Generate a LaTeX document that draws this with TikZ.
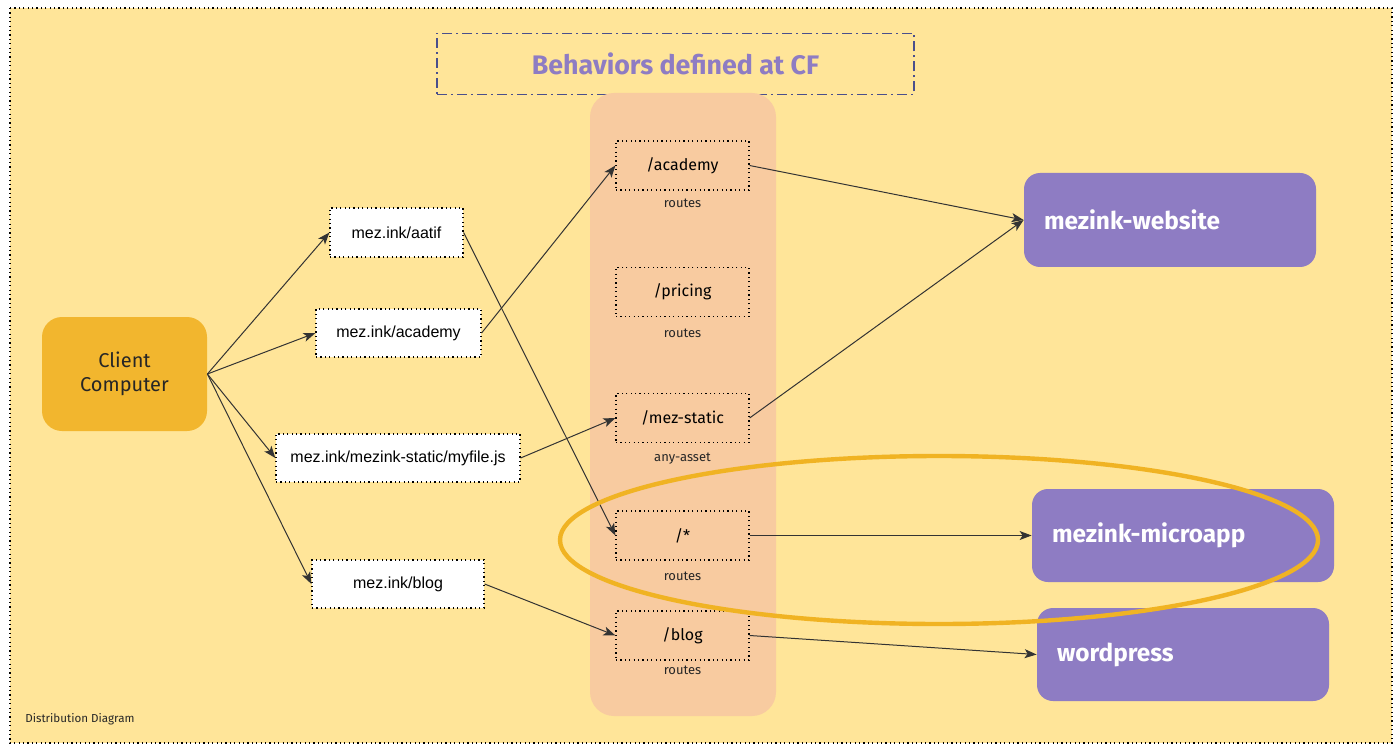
\documentclass[tikz,border=0pt]{standalone}
\usepackage{fontspec}
\setmainfont{Fira Sans}
\newfontfamily\arialf{Liberation Sans}
\usetikzlibrary{arrows.meta}
\definecolor{bgyellow}{HTML}{FFE599}
\definecolor{peach}{HTML}{F8CBA0}
\definecolor{clientc}{HTML}{F2B62E}
\definecolor{purp}{HTML}{8E7CC3}
\definecolor{ellc}{HTML}{F0B323}
\definecolor{navy}{HTML}{4A4F8C}
\definecolor{linec}{HTML}{333333}
\begin{document}
\begin{tikzpicture}[x=0.5pt,y=-0.5pt,
  dotb/.style={draw=black, line width=0.6pt, dash pattern=on 0.6pt off 1.6pt},
  urlbox/.style={dotb, fill=white, font=\arialf\fontsize{8}{9}\selectfont, inner sep=0pt},
  routebox/.style={dotb, minimum width=66.5pt, minimum height=24.5pt, font=\fontsize{8}{9}\selectfont, inner sep=0pt},
  routelbl/.style={font=\fontsize{6.5}{7}\selectfont, text=black!85, inner sep=0pt},
  purpbox/.style={fill=purp, rounded corners=8pt, font=\bfseries\fontsize{12.2}{14}\selectfont, text=white, align=left, inner xsep=10pt, inner ysep=0pt},
  conn/.style={draw=linec, line width=0.5pt, -{Stealth[length=6pt,width=4.5pt,inset=1.5pt]}}
]
\useasboundingbox (0,0) rectangle (1400,753);
\fill[white] (0,0) rectangle (1400,753);
\fill[bgyellow] (10,8) rectangle (1392,743);
\draw[dotb] (10,8) rectangle (1392,743);

% title
\node[draw=navy, line width=0.6pt, dash pattern=on 5pt off 2pt on 1pt off 2pt, minimum width=238.5pt, minimum height=30.5pt, inner sep=0pt,
  text=purp, font=\bfseries\fontsize{13.4}{15}\selectfont] (title) at (675.5,64) {Behaviors defined at CF};

% column
\node[fill=peach, rounded corners=12pt, minimum width=93pt, minimum height=311.5pt, inner sep=0pt] (col) at (683,404.5) {};

% route boxes
\node[routebox] (racad) at (682.5,165.5) {/academy};
\node[routelbl] (lacad) at (682.5,203) {routes};
\node[routebox] (rpric) at (682.5,292) {/pricing};
\node[routelbl] (lpric) at (682.5,333) {routes};
\node[routebox] (rstat) at (682.5,418) {/mez-static};
\node[routelbl] (lstat) at (682.5,459) {any-asset};
\node[routebox] (rstar) at (682.5,535.5) {/*};
\node[routelbl] (lstar) at (682.5,576) {routes};
\node[routebox] (rblog) at (682.5,635.5) {/blog};
\node[routelbl] (lblog) at (682.5,670) {routes};

% client
\node[fill=clientc, rounded corners=10pt, minimum width=82.5pt, minimum height=57pt, inner sep=0pt, align=center,
  font=\fontsize{10}{12}\selectfont, text=black!85] (client) at (124.5,374) {Client\\Computer};

% url boxes
\node[urlbox, minimum width=66.5pt, minimum height=24.5pt] (uaatif) at (396.5,232.5) {mez.ink/aatif};
\node[urlbox, minimum width=82.5pt, minimum height=24pt] (uacad) at (398.5,333) {mez.ink/academy};
\node[urlbox, minimum width=122pt, minimum height=24pt] (ufile) at (398,458) {mez.ink/mezink-static/myfile.js};
\node[urlbox, minimum width=86pt, minimum height=24pt] (ublog) at (398,584) {mez.ink/blog};

% purple boxes
\node[purpbox, minimum width=146pt, minimum height=47pt, text width=126pt] (web) at (1170,220) {mezink-website};
\node[purpbox, minimum width=151pt, minimum height=46.5pt, text width=131pt] (micro) at (1183,535.5) {mezink-microapp};
\node[purpbox, minimum width=146pt, minimum height=46.5pt, text width=126pt] (wp) at (1183,654.5) {wordpress};

% footer
\node[anchor=west, inner sep=0pt, font=\fontsize{5.8}{7}\selectfont, text=black!85] (foot) at (25,719) {Distribution Diagram};

% connectors
\draw[conn] (client.east) -- (uaatif.west);
\draw[conn] (client.east) -- (uacad.west);
\draw[conn] (client.east) -- (ufile.west);
\draw[conn] (client.east) -- (ublog.west);
\draw[conn] (uaatif.east) -- (rstar.west);
\draw[conn] (uacad.east) -- (racad.west);
\draw[conn] (ufile.east) -- (rstat.west);
\draw[conn] (ublog.east) -- (rblog.west);
\draw[conn] (racad.east) -- (web.west);
\draw[conn] (rstat.east) -- (web.west);
\draw[conn] (rstar.east) -- (micro.west);
\draw[conn] (rblog.east) -- (wp.west);

% highlight ellipse
\draw[ellc, line width=2.2pt] (939,540) ellipse [x radius=189.5pt, y radius=42pt];
\end{tikzpicture}
\end{document}
